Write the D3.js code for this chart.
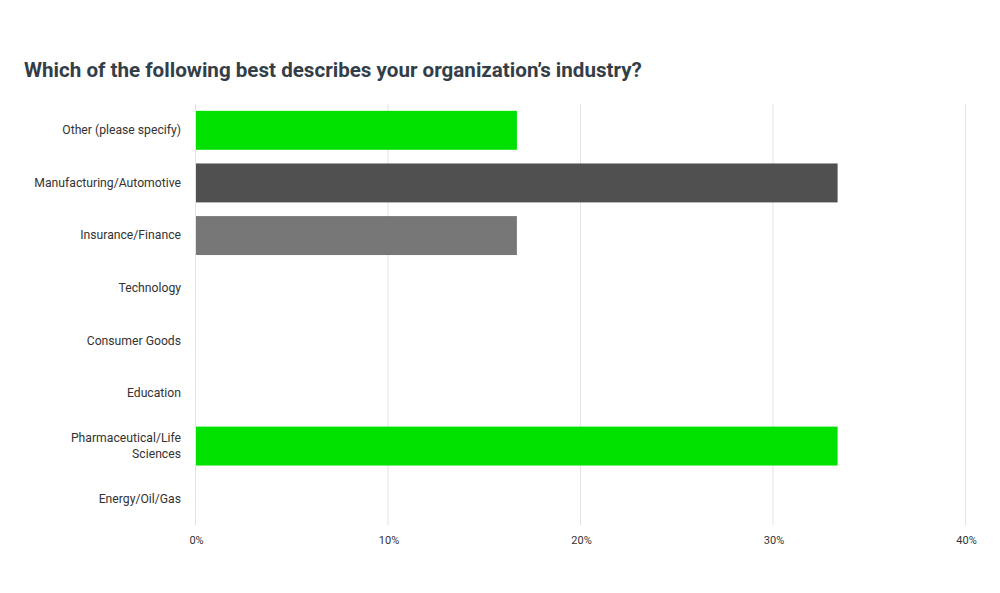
<!DOCTYPE html>
<html>
<head>
<meta charset="utf-8">
<script src="https://cdn.jsdelivr.net/npm/d3@7"></script>
<style>
  body { margin: 0; background: #fff; }
  svg text { font-family: "Roboto", "Open Sans", sans-serif; }
</style>
</head>
<body>
<div id="chart"></div>
<script>
const title = "Which of the following best describes your organization\u2019s industry?";
const categories = [
  "Other (please specify)",
  "Manufacturing/Automotive",
  "Insurance/Finance",
  "Technology",
  "Consumer Goods",
  "Education",
  "Pharmaceutical/Life Sciences",
  "Energy/Oil/Gas"
];
const values = [16.67, 33.33, 16.67, 0, 0, 0, 33.33, 0];
const barColors = ["#00e100", "#505050", "#777777", "#00e100", "#00e100", "#00e100", "#00e100", "#00e100"];
const ticks = [0, 10, 20, 30, 40];

const width = 1000, height = 593;
const margin = { top: 104, left: 196, right: 34, bottom: 68 };

const svg = d3.select('#chart')
  .append('svg')
  .attr('width', width)
  .attr('height', height);

svg.append('text')
  .attr('x', 24)
  .attr('y', 77)
  .attr('font-size', '20.6px')
  .attr('font-weight', 'bold')
  .attr('fill', '#333e48')
  .text(title);

const x = d3.scaleLinear()
  .domain([0, 40])
  .range([margin.left, width - margin.right]);

const y = d3.scaleBand()
  .domain(categories)
  .range([margin.top, height - margin.bottom])
  .paddingInner(0.26)
  .paddingOuter(0.13);

// gridlines
svg.append('g')
  .selectAll('line')
  .data(ticks)
  .join('line')
  .attr('x1', d => x(d) - 0.5)
  .attr('x2', d => x(d) - 0.5)
  .attr('y1', margin.top)
  .attr('y2', height - margin.bottom)
  .attr('stroke', '#e3e3e3')
  .attr('stroke-width', 1);

// bars
svg.append('g')
  .selectAll('rect')
  .data(categories)
  .join('rect')
  .attr('x', x(0))
  .attr('y', d => y(d))
  .attr('width', (d, i) => Math.max(0, x(values[i]) - x(0)))
  .attr('height', y.bandwidth())
  .attr('fill', (d, i) => barColors[i]);

// x axis tick labels
const xAxis = d3.axisBottom(x)
  .tickValues(ticks)
  .tickFormat(d => d + '%')
  .tickSize(0)
  .tickPadding(0);

const gx = svg.append('g')
  .attr('transform', `translate(0,${height - margin.bottom + 11})`)
  .call(xAxis);
gx.select('.domain').remove();
gx.selectAll('text')
  .attr('font-size', '11px')
  .attr('font-family', '"Roboto", sans-serif')
  .attr('fill', '#333');

// y axis labels with wrapping
const yAxis = d3.axisLeft(y).tickSize(0).tickPadding(15);
const gy = svg.append('g')
  .attr('transform', `translate(${margin.left},0)`)
  .call(yAxis);
gy.select('.domain').remove();
gy.selectAll('text')
  .attr('font-size', '12.2px')
  .attr('font-family', '"Roboto", sans-serif')
  .attr('fill', '#333')
  .call(wrap, 150);

function wrap(texts, maxWidth) {
  texts.each(function() {
    const text = d3.select(this);
    const words = text.text().split(/\s+/);
    const xPos = text.attr('x');
    text.text(null);
    let lines = [[]];
    const probe = text.append('tspan');
    for (const w of words) {
      const cur = lines[lines.length - 1];
      probe.text(cur.concat(w).join(' '));
      if (cur.length && probe.node().getComputedTextLength() > maxWidth) {
        lines.push([w]);
      } else {
        cur.push(w);
      }
    }
    probe.remove();
    const lh = 1.35;
    const start = 0.32 - (lines.length - 1) * lh / 2;
    lines.forEach((ln, i) => {
      text.append('tspan')
        .attr('x', xPos)
        .attr('dy', i === 0 ? start + 'em' : lh + 'em')
        .text(ln.join(' '));
    });
    text.attr('dy', null);
  });
}
</script>
</body>
</html>
